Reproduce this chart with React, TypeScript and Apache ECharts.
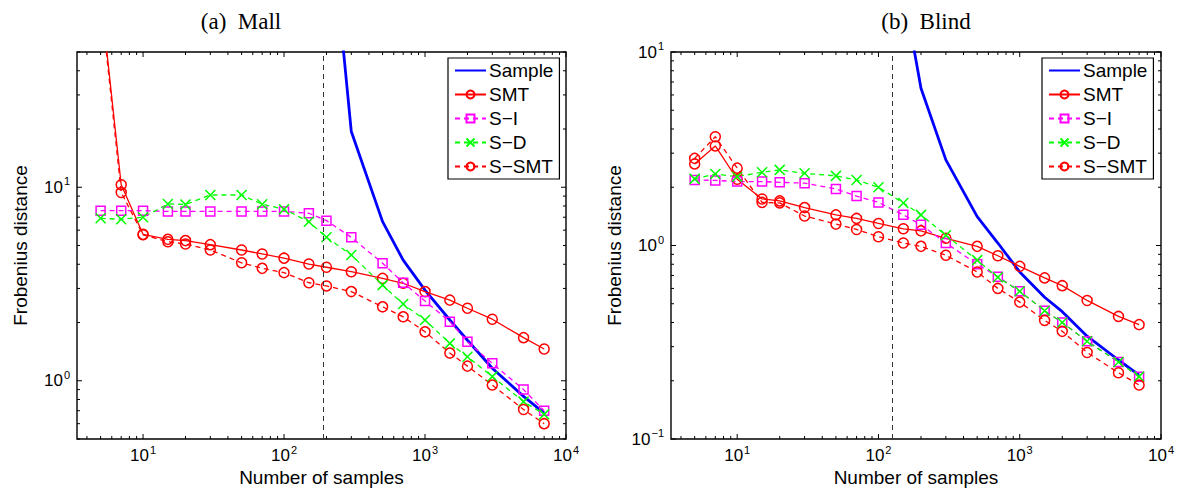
import React, { useEffect, useRef } from 'react';
import * as echarts from 'echarts';

// ---- data ----
const samples = [5, 7, 10, 15, 20, 30, 50, 70, 100, 150, 200, 300, 500, 700, 1000, 1500, 2000, 3000, 5000, 7000];

// (a) Mall
const sampleMallX = [200, 300, 500, 700, 1000, 1500, 2000, 3000, 5000, 7000];
const sampleMall = [410, 19.4, 6.64, 4.2, 2.94, 2.06, 1.62, 1.16, 0.83, 0.68];
const smtMall = [100, 10.3, 5.71, 5.38, 5.3, 5.05, 4.74, 4.52, 4.3, 4.01, 3.86, 3.66, 3.38, 3.19, 2.89, 2.61, 2.37, 2.08, 1.67, 1.46];
const siMall = [7.57, 7.57, 7.57, 7.5, 7.5, 7.5, 7.5, 7.5, 7.5, 7.34, 6.72, 5.51, 4.05, 3.21, 2.58, 2.02, 1.59, 1.23, 0.9, 0.7];
const sdMall = [6.91, 6.83, 7.0, 8.2, 8.15, 9.12, 9.12, 8.17, 7.7, 6.64, 5.51, 4.47, 3.12, 2.49, 2.06, 1.56, 1.33, 1.05, 0.78, 0.67];
const ssmtMall = [95, 9.4, 5.68, 5.23, 5.09, 4.74, 4.07, 3.81, 3.62, 3.21, 3.09, 2.89, 2.41, 2.14, 1.79, 1.39, 1.19, 0.95, 0.71, 0.6];
const cutoffMall = 190;

// (b) Blind
const sampleBlindX = [150, 200, 300, 500, 700, 1000, 1500, 2000, 3000, 5000, 7000];
const sampleBlind = [21, 6.5, 2.77, 1.41, 1.03, 0.73, 0.54, 0.455, 0.34, 0.256, 0.214];
const smtBlind = [2.64, 3.27, 2.2, 1.74, 1.7, 1.57, 1.44, 1.38, 1.3, 1.22, 1.19, 1.09, 0.99, 0.885, 0.78, 0.68, 0.62, 0.52, 0.43, 0.39];
const siBlind = [2.18, 2.17, 2.14, 2.14, 2.12, 2.1, 1.96, 1.8, 1.67, 1.44, 1.28, 1.03, 0.8, 0.69, 0.58, 0.46, 0.4, 0.32, 0.25, 0.21];
const sdBlind = [2.21, 2.34, 2.27, 2.39, 2.46, 2.36, 2.29, 2.18, 2.0, 1.66, 1.44, 1.13, 0.84, 0.685, 0.58, 0.46, 0.4, 0.32, 0.25, 0.21];
const ssmtBlind = [2.82, 3.65, 2.51, 1.67, 1.66, 1.42, 1.29, 1.21, 1.11, 1.03, 0.99, 0.89, 0.73, 0.6, 0.51, 0.41, 0.36, 0.28, 0.22, 0.19];
const cutoffBlind = 125;

const legendNames = ['Sample', 'SMT', 'S\u2212I', 'S\u2212D', 'S\u2212SMT'];
const titles = ['(a)  Mall', '(b)  Blind'];
const xAxisName = 'Number of samples';
const yAxisName = 'Frobenius distance';

// tick positions
const xTicks = [4, 5, 6, 7, 8, 9, 10, 20, 30, 40, 50, 60, 70, 80, 90, 100, 200, 300, 400, 500, 600, 700, 800, 900, 1000, 2000, 3000, 4000, 5000, 6000, 7000, 8000, 9000, 10000];
const yTicksMall = [0.5, 0.6, 0.7, 0.8, 0.9, 1, 2, 3, 4, 5, 6, 7, 8, 9, 10, 20, 30, 40, 50];
const yTicksBlind = [0.1, 0.2, 0.3, 0.4, 0.5, 0.6, 0.7, 0.8, 0.9, 1, 2, 3, 4, 5, 6, 7, 8, 9, 10];

const SANS = 'Liberation Sans, Arial, sans-serif';
const SERIF = 'Liberation Serif, Times New Roman, serif';

const zip = (xs: number[], ys: number[]) => xs.map((x, i) => [x, ys[i]]);
const isPow10 = (v: number) => {
  const l = Math.log10(v);
  return Math.abs(l - Math.round(l)) < 1e-6;
};
const sup = (v: number) => {
  if (!isPow10(v)) return '';
  const e = Math.round(Math.log10(v));
  return '{b|10}{s|' + (e < 0 ? '\u2212' + -e : String(e)) + '}';
};
const richLabel = {
  b: { fontSize: 17, fontFamily: SANS, color: '#000', lineHeight: 17 },
  s: { fontSize: 11, fontFamily: SANS, color: '#000', lineHeight: 11, padding: [0, 0, 12, 1] },
};

export default function App() {
  const ref = useRef<HTMLDivElement>(null);
  useEffect(() => {
    if (!ref.current) return;
    const chart = echarts.init(ref.current, undefined, { renderer: 'svg' });

    const grids = [
      { left: 77, top: 52, width: 489, height: 387 },
      { left: 671, top: 52, width: 490, height: 387 },
    ];
    const yRanges = [
      [0.5, 50],
      [0.1, 10],
    ];

    const mkLine = (name: string, gi: number, data: number[][], kind: string, cutoff?: number) => {
      const base: any = {
        name,
        type: 'line',
        xAxisIndex: gi,
        yAxisIndex: gi,
        data,
        showAllSymbol: true,
        clip: true,
        silent: true,
        z: 3,
      };
      if (kind === 'sample') {
        Object.assign(base, {
          color: '#0000ff',
          symbol: 'circle',
          showSymbol: false,
          itemStyle: { color: 'rgba(0,0,0,0)', borderColor: 'rgba(0,0,0,0)', borderWidth: 0 },
          lineStyle: { color: '#0000ff', width: 2.8 },
          z: 2,
        });
      } else {
        const cfg: any = {
          smt: { c: '#ff0000', sym: 'circle', size: 10, dash: 'solid' },
          si: { c: '#ff00ff', sym: 'rect', size: 9, dash: [5, 4] },
          sd: { c: '#00ff00', sym: 'path://M0,0L10,10M10,0L0,10', size: 10, dash: [5, 4] },
          ssmt: { c: '#ff0000', sym: 'circle', size: 10, dash: [5, 4] },
        }[kind];
        Object.assign(base, {
          color: cfg.c,
          symbol: cfg.sym,
          symbolSize: cfg.size,
          lineStyle: { color: cfg.c, width: 1.3, type: cfg.dash },
          itemStyle: { color: 'rgba(255,255,255,0)', borderColor: cfg.c, borderWidth: 1.5 },
        });
      }
      if (cutoff !== undefined) {
        base.markLine = {
          silent: true,
          symbol: ['none', 'none'],
          label: { show: false },
          lineStyle: { color: '#333', width: 1, type: [5, 4] },
          data: [{ xAxis: cutoff }],
        };
      }
      return base;
    };

    const tickSeries = (gi: number, axis: 'x' | 'y', vals: number[]) => ({
      type: 'custom',
      xAxisIndex: gi,
      yAxisIndex: gi,
      silent: true,
      clip: false,
      z: 10,
      data: axis === 'x' ? vals.map((v) => [v, 1]) : vals.map((v) => [10, v]),
      renderItem: (params: any, api: any) => {
        const cs = params.coordSys;
        const major = isPow10(api.value(axis === 'x' ? 0 : 1));
        const len = major ? 5 : 3;
        const st = { stroke: '#000', lineWidth: 1 };
        if (axis === 'x') {
          const x = api.coord([api.value(0), api.value(1)])[0];
          return {
            type: 'group',
            children: [
              { type: 'line', shape: { x1: x, y1: cs.y + cs.height, x2: x, y2: cs.y + cs.height - len }, style: st },
              { type: 'line', shape: { x1: x, y1: cs.y, x2: x, y2: cs.y + len }, style: st },
            ],
          };
        }
        const y = api.coord([api.value(0), api.value(1)])[1];
        return {
          type: 'group',
          children: [
            { type: 'line', shape: { x1: cs.x, y1: y, x2: cs.x + len, y2: y }, style: st },
            { type: 'line', shape: { x1: cs.x + cs.width, y1: y, x2: cs.x + cs.width - len, y2: y }, style: st },
          ],
        };
      },
    });

    const option: any = {
      animation: false,
      backgroundColor: '#fff',
      textStyle: { fontFamily: SANS },
      grid: grids.map((g) => ({
        ...g,
        show: true,
        borderColor: '#000',
        borderWidth: 1.4,
        backgroundColor: 'transparent',
        containLabel: false,
        outerBoundsMode: 'none',
      })),
      xAxis: grids.map((_, i) => ({
        type: 'log',
        logBase: 10,
        gridIndex: i,
        min: 3.4,
        max: 10000,
        axisLine: { show: false },
        axisTick: { show: false },
        minorTick: { show: false },
        splitLine: { show: false },
        axisLabel: { formatter: sup, rich: richLabel, margin: 8, showMinLabel: true, showMaxLabel: true, hideOverlap: false },
        name: xAxisName,
        nameLocation: 'middle',
        nameGap: 29,
        nameMoveOverlap: false,
        nameTextStyle: { fontSize: 19, fontFamily: SANS, color: '#000' },
      })),
      yAxis: grids.map((_, i) => ({
        type: 'log',
        logBase: 10,
        gridIndex: i,
        min: yRanges[i][0],
        max: yRanges[i][1],
        axisLine: { show: false },
        axisTick: { show: false },
        minorTick: { show: false },
        splitLine: { show: false },
        axisLabel: { formatter: sup, rich: richLabel, margin: 7, showMinLabel: true, showMaxLabel: true, hideOverlap: false },
        name: yAxisName,
        nameLocation: 'middle',
        nameRotate: 90,
        nameGap: 47,
        nameMoveOverlap: false,
        nameTextStyle: { fontSize: 19, fontFamily: SANS, color: '#000' },
      })),
      legend: [448, 1042].map((left) => ({
        data: legendNames,
        orient: 'vertical',
        left,
        top: 58,
        padding: [3, 6, 3, 6],
        itemWidth: 31,
        itemHeight: 10,
        itemGap: 5,
        selectedMode: false,
        borderColor: '#000',
        borderWidth: 1.2,
        borderRadius: 0,
        backgroundColor: '#fff',
        textStyle: { fontSize: 19, fontFamily: SANS, color: '#000', padding: [0, 0, 0, -2] },
      })),
      graphic: [
        { type: 'text', x: 241, y: 21, style: { text: titles[0], font: '23px ' + SERIF, fill: '#000', textAlign: 'center', textVerticalAlign: 'middle' } },
        { type: 'text', x: 926, y: 21, style: { text: titles[1], font: '23px ' + SERIF, fill: '#000', textAlign: 'center', textVerticalAlign: 'middle' } },
      ],
      series: [
        mkLine(legendNames[0], 0, zip(sampleMallX, sampleMall), 'sample'),
        mkLine(legendNames[1], 0, zip(samples, smtMall), 'smt', cutoffMall),
        mkLine(legendNames[2], 0, zip(samples, siMall), 'si'),
        mkLine(legendNames[3], 0, zip(samples, sdMall), 'sd'),
        mkLine(legendNames[4], 0, zip(samples, ssmtMall), 'ssmt'),
        mkLine(legendNames[0], 1, zip(sampleBlindX, sampleBlind), 'sample'),
        mkLine(legendNames[1], 1, zip(samples, smtBlind), 'smt', cutoffBlind),
        mkLine(legendNames[2], 1, zip(samples, siBlind), 'si'),
        mkLine(legendNames[3], 1, zip(samples, sdBlind), 'sd'),
        mkLine(legendNames[4], 1, zip(samples, ssmtBlind), 'ssmt'),
        tickSeries(0, 'x', xTicks),
        tickSeries(0, 'y', yTicksMall),
        tickSeries(1, 'x', xTicks),
        tickSeries(1, 'y', yTicksBlind),
      ],
    };
    chart.setOption(option);
    return () => chart.dispose();
  }, []);
  return <div ref={ref} style={{ position: 'absolute', left: 0, top: 0, width: 1178, height: 490 }} />;
}
